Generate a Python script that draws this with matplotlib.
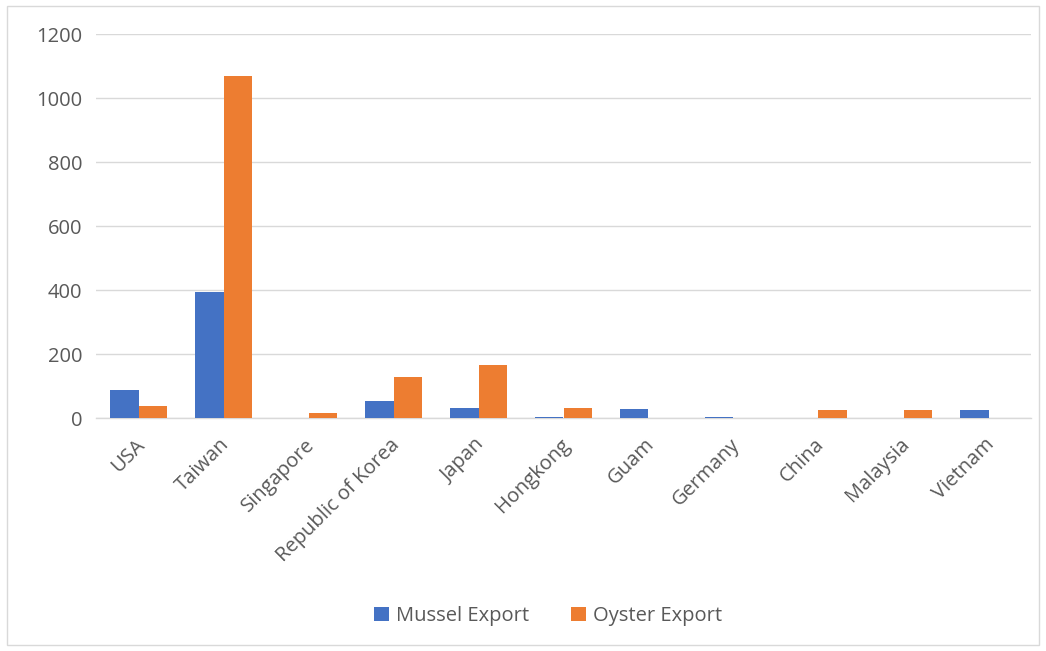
import matplotlib
matplotlib.use("Agg")
import matplotlib.pyplot as plt
import numpy as np
from matplotlib.patches import Rectangle
from matplotlib.transforms import ScaledTranslation

categories = ["USA", "Taiwan", "Singapore", "Republic of Korea", "Japan", "Hongkong",
              "Guam", "Germany", "China", "Malaysia", "Vietnam"]
mussel = [88, 395, 1, 52, 30, 2, 29, 2, 0, 0, 24]
oyster = [38, 1070, 16, 129, 167, 30, 0, 0, 24, 24, 0]
yticks = [0, 200, 400, 600, 800, 1000, 1200]

plt.rcParams['font.family'] = ['Open Sans', 'DejaVu Sans']
txt = '#595959'

fig = plt.figure(figsize=(10.46, 6.51), dpi=100)
fig.patches.append(Rectangle((7/1046, 6/651), 1032/1046, 639/651, transform=fig.transFigure,
                             fill=False, edgecolor='#d9d9d9', linewidth=1))
ax = fig.add_axes([96/1046, 1-418/651, 935/1046, 384/651])

x = np.arange(len(categories))
w = 1/3
ax.bar(x - w/2, mussel, width=w, color='#4472c4', label='Mussel Export', zorder=3)
ax.bar(x + w/2, oyster, width=w, color='#ed7d31', label='Oyster Export', zorder=3)

ax.set_xlim(-0.5, len(categories) - 0.5)
ax.set_ylim(0, 1200)
ax.set_yticks(yticks)
ax.set_yticklabels([str(v) for v in yticks], fontsize=14.5, color=txt)
ax.yaxis.grid(True, color='#d9d9d9', linewidth=1, zorder=0)
ax.set_axisbelow(True)
for s in ['top', 'right', 'left']:
    ax.spines[s].set_visible(False)
ax.spines['bottom'].set_color('#d9d9d9')
ax.spines['bottom'].set_linewidth(1)
ax.tick_params(axis='both', length=0)
ax.tick_params(axis='y', pad=10)
ax.set_xticks(x)
ax.set_xticklabels(categories, rotation=45, ha='right', rotation_mode='anchor',
                   fontsize=14.5, color=txt)
ax.tick_params(axis='x', pad=12)
off = ScaledTranslation(-4/100, 0, fig.dpi_scale_trans)
for lab in ax.get_xticklabels():
    lab.set_transform(lab.get_transform() + off)

fig.legend(loc='center', bbox_to_anchor=(548/1046, 1-616/651), ncol=2, frameon=False,
           fontsize=14.5, labelcolor=txt, handlelength=0.75, handleheight=0.75,
           handletextpad=0.35, columnspacing=2.1)

fig.savefig('out.png', dpi=100)
